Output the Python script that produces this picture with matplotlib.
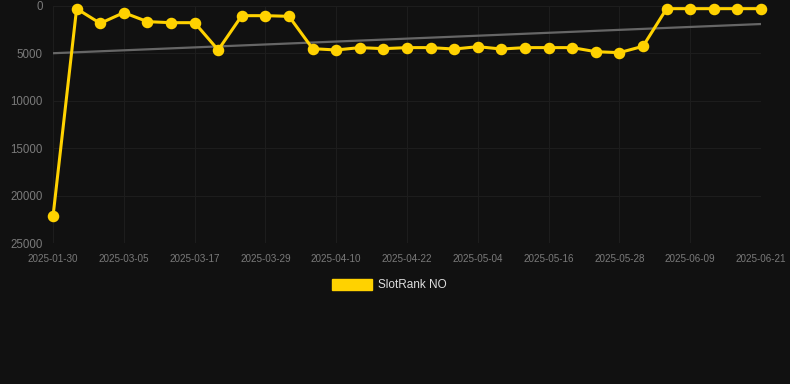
import numpy as np
import matplotlib
matplotlib.use("Agg")
import matplotlib.pyplot as plt
from matplotlib.patches import Rectangle

plt.rcParams['font.family'] = ['Liberation Sans', 'DejaVu Sans']

dates = ["2025-01-30", "2025-02-26", "2025-03-01", "2025-03-05", "2025-03-09", "2025-03-13",
         "2025-03-17", "2025-03-21", "2025-03-25", "2025-03-29", "2025-04-02", "2025-04-06",
         "2025-04-10", "2025-04-14", "2025-04-18", "2025-04-22", "2025-04-26", "2025-04-30",
         "2025-05-04", "2025-05-08", "2025-05-12", "2025-05-16", "2025-05-20", "2025-05-24",
         "2025-05-28", "2025-06-01", "2025-06-05", "2025-06-09", "2025-06-13", "2025-06-17",
         "2025-06-21"]
ranks = [22200, 280, 1830, 700, 1650, 1760, 1760, 4640, 1020, 1020, 1090, 4500,
         4640, 4390, 4500, 4390, 4390, 4540, 4290, 4540, 4390, 4390, 4390, 4820,
         4920, 4250, 280, 280, 280, 280, 280]
series_name = "SlotRank NO"
y_ticks = [0, 5000, 10000, 15000, 20000, 25000]

bg = "#111111"
gold = "#FFD200"
fig = plt.figure(figsize=(7.9, 3.84), dpi=100, facecolor=bg)
ax = fig.add_axes([53/790, 1 - 243/384, 708/790, 237/384], facecolor=bg)

x = np.arange(len(ranks))
coef = np.polyfit(x, ranks, 1)
ax.plot(x, np.polyval(coef, x), color="#666666", lw=1.6, zorder=2)
ax.plot(x, ranks, color=gold, lw=2.2, marker="o", markersize=7.3, clip_on=False, zorder=3)

ax.set_xlim(0, len(ranks) - 1)
ax.set_ylim(25000, 0)
ax.set_yticks(y_ticks)
ax.set_yticklabels([str(v) for v in y_ticks])
tick_idx = list(range(0, len(dates), 3))
ax.set_xticks(tick_idx)
ax.set_xticklabels([dates[i] for i in tick_idx])
ax.tick_params(axis="y", length=0, pad=7.5, labelsize=8.3, labelcolor="#7a7a7a")
ax.tick_params(axis="x", length=0, pad=8, labelsize=7.1, labelcolor="#7a7a7a")
ax.grid(True, color="#1d1d1d", lw=0.8)
ax.set_axisbelow(True)
for s in ax.spines.values():
    s.set_visible(False)

fig.patches.append(Rectangle((332/790, 1 - 289.5/384), 40/790, 11/384,
                             transform=fig.transFigure, color=gold))
fig.text(378/790, 1 - 284.5/384, series_name, color="#dddddd", fontsize=8.5, va="center", ha="left")

fig.savefig("out.png", dpi=100, facecolor=bg)
